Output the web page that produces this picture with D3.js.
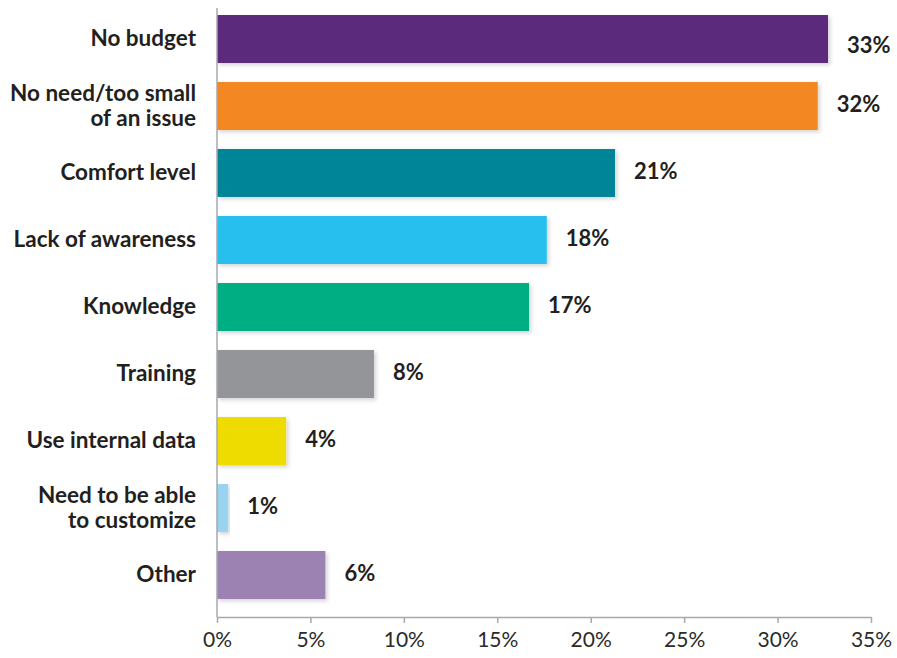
<!DOCTYPE html>
<html>
<head>
<meta charset="utf-8">
<script src="https://cdn.jsdelivr.net/npm/d3@7"></script>
<style>
  html, body { margin: 0; padding: 0; background: #fff; }
  svg { display: block; }
</style>
</head>
<body>
<svg id="chart" width="897" height="658"></svg>
<script>
// Reasons given, top to bottom
const categories = [
  "No budget",
  "No need/too small\nof an issue",
  "Comfort level",
  "Lack of awareness",
  "Knowledge",
  "Training",
  "Use internal data",
  "Need to be able\nto customize",
  "Other"
];
// Share of respondents (%)
const values = [32.7, 32.15, 21.3, 17.65, 16.7, 8.4, 3.7, 0.6, 5.8];
const barColors = ["#5c2a7c", "#f38822", "#008598", "#26bfee", "#00ae84",
                   "#939598", "#eedc00", "#9ad3f0", "#9c82b3"];
const tickValues = [0, 5, 10, 15, 20, 25, 30, 35];

const svg = d3.select("#chart");
const left = 217, right = 871, axisY = 617;
const font = "Lato, sans-serif";

const x = d3.scaleLinear().domain([0, 35]).range([left, right]);
const y = d3.scaleBand()
  .domain(categories)
  .range([5.5, 608.5])
  .paddingInner(0.284)
  .paddingOuter(0.142);

// soft shadow under each bar
const defs = svg.append("defs");
const f = defs.append("filter").attr("id", "shadow")
  .attr("x", "-5%").attr("y", "-20%").attr("width", "115%").attr("height", "150%");
f.append("feDropShadow").attr("dx", 2).attr("dy", 2)
  .attr("stdDeviation", 2).attr("flood-color", "#000").attr("flood-opacity", 0.18);

const rows = categories.map((c, i) => ({ c, v: values[i], color: barColors[i], i }));

svg.append("g").selectAll("rect").data(rows).join("rect")
  .attr("x", x(0))
  .attr("y", d => y(d.c))
  .attr("width", d => x(d.v) - x(0))
  .attr("height", y.bandwidth())
  .attr("fill", d => d.color)
  .attr("filter", "url(#shadow)");

// value labels (the top one sits a little lower, clear of the frame edge)
svg.append("g").selectAll("text").data(rows).join("text")
  .attr("x", d => x(d.v) + 19)
  .attr("y", d => y(d.c) + y.bandwidth() / 2 + 6 + (d.i === 0 ? 8 : 0))
  .attr("font-family", font)
  .attr("font-weight", 700)
  .attr("font-size", 22)
  .attr("fill", "#231f20")
  .text(d => Math.round(d.v) + "%");

// category labels
const catG = svg.append("g");
rows.forEach(d => {
  const lines = d.c.split("\n");
  const cy = y(d.c) + y.bandwidth() / 2;
  const lh = 25;
  const t = catG.append("text")
    .attr("text-anchor", "end")
    .attr("font-family", font)
    .attr("font-weight", 700)
    .attr("font-size", 22.5)
    .attr("fill", "#231f20");
  lines.forEach((ln, k) => {
    t.append("tspan")
      .attr("x", 196)
      .attr("y", cy + 7 + (k - (lines.length - 1) / 2) * lh)
      .text(ln);
  });
});

// vertical baseline
svg.append("line")
  .attr("x1", left).attr("x2", left)
  .attr("y1", 8).attr("y2", axisY)
  .attr("stroke", "#a7a9ac").attr("stroke-width", 1.5);

// x axis
const xAxis = d3.axisBottom(x)
  .tickValues(tickValues)
  .tickFormat(d => d + "%")
  .tickSize(6)
  .tickSizeOuter(0)
  .tickPadding(9);

const ax = svg.append("g")
  .attr("transform", `translate(0,${axisY})`)
  .call(xAxis);
ax.select(".domain").attr("stroke", "#a7a9ac").attr("stroke-width", 1.5);
ax.selectAll(".tick line").attr("stroke", "#a7a9ac").attr("stroke-width", 1.5);
ax.selectAll(".tick text")
  .attr("font-family", font)
  .attr("font-weight", 400)
  .attr("font-size", 21)
  .attr("fill", "#2b2b2b");
</script>
</body>
</html>
